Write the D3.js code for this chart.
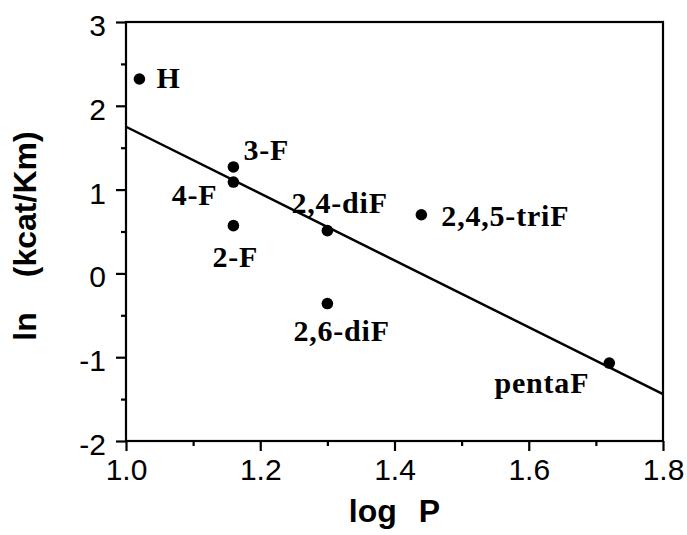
<!DOCTYPE html>
<html>
<head>
<meta charset="utf-8">
<script src="https://cdn.jsdelivr.net/npm/d3@7"></script>
<style>
  html, body { margin: 0; padding: 0; background: #fff; }
  svg { display: block; }
</style>
</head>
<body>
<svg id="chart" width="687" height="535"></svg>
<script>
// ---- data ----
const names   = ["H", "3-F", "4-F", "2-F", "2,4-diF", "2,6-diF", "2,4,5-triF", "pentaF"];
const logP    = [1.02, 1.16, 1.16, 1.16, 1.30, 1.30, 1.44, 1.72];
const lnKcatKm = [2.32, 1.27, 1.09, 0.57, 0.51, -0.36, 0.70, -1.07];
const fitX = [1.0, 1.8];
const fitY = [1.75, -1.44];
const xTicks = [1.0, 1.2, 1.4, 1.6, 1.8];
const xMinor = [1.1, 1.3, 1.5, 1.7];
const yTicks = [-2, -1, 0, 1, 2, 3];
const yMinor = [-1.5, -0.5, 0.5, 1.5, 2.5];

// ---- label placement (style, not data) ----
const labelPos = [
  {dx: 17, dy: 9, anchor: "start"},
  {dx: 10, dy: -7, anchor: "start"},
  {dx: -16, dy: 23, anchor: "end"},
  {dx: -21, dy: 41, anchor: "start"},
  {dx: -36, dy: -18, anchor: "start"},
  {dx: -34, dy: 37, anchor: "start"},
  {dx: 20, dy: 11, anchor: "start"},
  {dx: -20, dy: 30, anchor: "end"}
];

const svg = d3.select("#chart");
const L = 126, R = 663, T = 22, B = 441;
const x = d3.scaleLinear().domain([1.0, 1.8]).range([L, R]);
const y = d3.scaleLinear().domain([-2, 3]).range([B, T]);

const tickFont = "'Liberation Sans', Arial, Helvetica, sans-serif";

// frame
svg.append("rect").attr("x", L).attr("y", T).attr("width", R - L).attr("height", B - T)
  .attr("fill", "none").attr("stroke", "#000").attr("stroke-width", 2.2);

// x axis
const xAxis = d3.axisBottom(x).tickValues(xTicks).tickFormat(d3.format(".1f"))
  .tickSize(10).tickPadding(8);
const gx = svg.append("g").attr("transform", `translate(0,${B})`).call(xAxis);
gx.select(".domain").remove();
gx.selectAll("line").attr("stroke-width", 2.2);
gx.selectAll("text").attr("font-family", tickFont).attr("font-size", 30).attr("fill", "#000");
const gxm = svg.append("g").attr("transform", `translate(0,${B})`)
  .call(d3.axisBottom(x).tickValues(xMinor).tickSize(5).tickFormat(""));
gxm.select(".domain").remove();
gxm.selectAll("line").attr("stroke-width", 2.2);

// y axis
const yAxis = d3.axisLeft(y).tickValues(yTicks).tickFormat(d => d < 0 ? "-" + Math.abs(d) : String(d))
  .tickSize(10).tickPadding(10);
const gy = svg.append("g").attr("transform", `translate(${L},0)`).call(yAxis);
gy.select(".domain").remove();
gy.selectAll("line").attr("stroke-width", 2.2);
gy.selectAll("text").attr("font-family", tickFont).attr("font-size", 30).attr("fill", "#000")
  .attr("dy", "0.45em");
const gym = svg.append("g").attr("transform", `translate(${L},0)`)
  .call(d3.axisLeft(y).tickValues(yMinor).tickSize(5).tickFormat(""));
gym.select(".domain").remove();
gym.selectAll("line").attr("stroke-width", 2.2);

// fit line
const line = d3.line().x(d => x(d[0])).y(d => y(d[1]));
svg.append("path").datum(d3.zip(fitX, fitY)).attr("d", line)
  .attr("fill", "none").attr("stroke", "#000").attr("stroke-width", 2.5);

// points
const pts = d3.range(names.length).map(i => ({name: names[i], x: logP[i], y: lnKcatKm[i], pos: labelPos[i]}));
svg.append("g").selectAll("circle").data(pts).join("circle")
  .attr("cx", d => x(d.x)).attr("cy", d => y(d.y)).attr("r", 5.8).attr("fill", "#000");

svg.append("g").selectAll("text").data(pts).join("text")
  .attr("x", d => x(d.x) + d.pos.dx).attr("y", d => y(d.y) + d.pos.dy)
  .attr("text-anchor", d => d.pos.anchor)
  .attr("font-family", "'Liberation Serif', 'Times New Roman', serif")
  .attr("font-weight", "bold").attr("font-size", 30).attr("letter-spacing", 0.8)
  .attr("fill", "#000").text(d => d.name);

// axis titles
const xt = svg.append("text").attr("x", (L + R) / 2).attr("y", 522).attr("text-anchor", "middle")
  .attr("font-family", tickFont).attr("font-weight", "bold").attr("font-size", 32).attr("fill", "#000");
xt.append("tspan").text("log");
xt.append("tspan").attr("dx", 22).text("P");

const yt = svg.append("text").attr("transform", "translate(36,236) rotate(-90)").attr("text-anchor", "middle")
  .attr("font-family", tickFont).attr("font-weight", "bold").attr("font-size", 32).attr("fill", "#000");
yt.append("tspan").text("ln");
yt.append("tspan").attr("dx", 35).text("(kcat/Km)");
</script>
</body>
</html>
